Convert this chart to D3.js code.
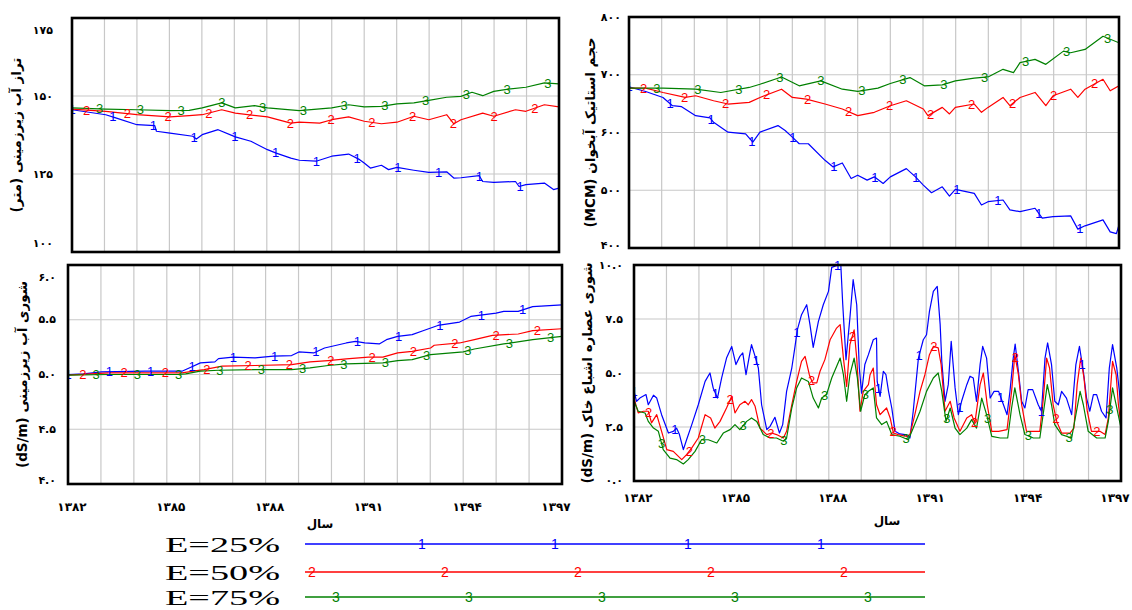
<!DOCTYPE html>
<html><head><meta charset="utf-8">
<script src="https://cdn.jsdelivr.net/npm/d3@7"></script>
<style>body{margin:0;background:#fff;overflow:hidden}svg{display:block}</style>
</head><body><svg id="c" width="1132" height="610"></svg>
<script>
// ---- shared ----
const yearTicks = [0, 3, 6, 9, 12, 15];           // years since 1382
const yearLabels = ["۱۳۸۲", "۱۳۸۵", "۱۳۸۸", "۱۳۹۱", "۱۳۹۴", "۱۳۹۷"];
const seriesNames = ["E=25%", "E=50%", "E=75%"];
const seriesMarks = ["1", "2", "3"];
const seriesColors = ["#0000ff", "#ff0000", "#008000"];
const xTitle = "سال";

// ---- groundwater level (m) ----
const gwTicks = [100, 125, 150, 175];
const gwTickLabels = ["۱۰۰", "۱۲۵", "۱۵۰", "۱۷۵"];
const gwTitle = "تراز آب زیرزمینی (متر)";
const gw1 = [[0,145.6],[1.04,144.0],[1.37,142.9],[2.0,140.8],[2.55,140.5],[2.60,138.7],[3.02,138.1],[3.72,137.1],[3.83,136.2],[4.01,137.6],[4.50,139.2],[5.03,136.9],[5.51,135.5],[6.02,132.8],[6.29,131.7],[6.74,130.1],[7.0,129.4],[7.52,129.1],[8.0,130.7],[8.52,131.4],[8.86,129.6],[9.0,128.5],[9.19,126.9],[9.53,127.8],[9.75,126.4],[10.01,127.1],[10.53,126.2],[10.99,125.5],[11.54,125.7],[11.76,123.7],[11.98,123.8],[12.54,124.5],[12.65,122.6],[12.99,122.3],[13.66,122.6],[13.77,121.0],[13.98,121.6],[14.55,122.1],[14.83,120.0],[15.0,120.5]];
const gw2 = [[0,145.8],[1.04,145.1],[2.0,144.0],[3.02,143.3],[3.61,143.7],[4.01,144.0],[4.61,145.6],[5.03,144.5],[6.02,143.3],[6.74,141.3],[7.0,141.6],[7.63,141.3],[8.0,142.4],[8.52,143.3],[9.0,141.9],[9.53,141.1],[10.01,141.6],[10.53,143.5],[10.99,142.4],[11.54,144.0],[11.76,141.1],[11.98,142.4],[12.65,144.5],[12.99,143.5],[13.66,145.6],[13.98,145.1],[14.55,147.2],[15.0,146.5]];
const gw3 = [[0,146.2],[1.04,145.8],[2.0,145.6],[3.02,145.3],[3.61,145.4],[4.01,146.2],[4.61,147.8],[5.03,146.2],[5.62,146.9],[6.02,146.2],[7.0,145.3],[8.0,146.2],[8.52,147.2],[9.0,146.5],[9.53,146.7],[10.01,147.5],[10.53,147.8],[10.99,148.6],[11.54,149.6],[11.98,149.9],[12.32,151.2],[12.65,150.1],[12.99,151.5],[13.44,152.2],[13.98,152.8],[14.55,154.2],[15.0,153.9]];

// ---- aquifer static volume (MCM) ----
const volTicks = [400, 500, 600, 700, 800];
const volTickLabels = ["۴۰۰", "۵۰۰", "۶۰۰", "۷۰۰", "۸۰۰"];
const volTitle = "حجم استاتیک آبخوان (MCM)";
const vol1 = [[0,679],[0.51,671],[1.04,660.7],[1.33,646.4],[1.61,644.7],[2.04,629.2],[2.48,625.2],[2.59,617.7],[3.03,600.6],[3.57,597.7],[3.79,583.4],[4.01,600.6],[4.56,612.0],[4.78,603.4],[5.0,592.0],[5.21,580.5],[5.49,580.5],[6.0,551.8],[6.25,540.4],[6.53,547.3],[6.80,520.3],[7.0,526.1],[7.29,517.5],[7.51,523.2],[7.78,511.7],[8.0,523.2],[8.49,537.5],[8.77,523.2],[9.01,508.9],[9.26,495.7],[9.59,506.0],[9.81,490.0],[9.99,501.4],[10.57,494.5],[10.79,474.5],[10.99,480.2],[11.45,483.1],[11.66,465.9],[11.97,463.0],[12.43,468.8],[12.65,451.6],[12.98,454.4],[13.52,455.6],[13.74,432.7],[13.96,438.4],[14.51,448.7],[14.73,428],[14.92,425],[15.0,440]];
const vol2 = [[0,676.8],[0.51,676.8],[1.04,669.3],[1.72,660.7],[2.04,663.6],[2.59,655.0],[3.03,649.3],[3.68,652.1],[4.01,660.7],[4.67,675.0],[5.0,660.7],[5.43,657.9],[6.0,649.3],[6.53,640.7],[7.0,629.2],[7.51,635.0],[8.0,646.4],[8.49,655.0],[9.01,640.7],[9.15,629.2],[9.59,643.5],[9.81,632.1],[9.99,643.5],[10.57,649.3],[10.79,635.0],[10.99,643.5],[11.45,660.7],[11.66,646.4],[11.97,660.7],[12.43,669.3],[12.76,646.4],[12.98,663.6],[13.52,675.0],[13.74,660.7],[13.96,675.0],[14.51,692.2],[14.73,672.2],[15.0,680.8]];
const vol3 = [[0,676.8],[1.04,676.8],[2.04,675.0],[2.81,669.3],[3.68,678.0],[4.01,683.6],[4.67,696.2],[5.21,680.8],[5.87,689.4],[6.53,675.0],[7.0,671.1],[7.62,676.8],[8.0,684.8],[8.60,695.1],[9.04,680.8],[9.59,682.5],[9.99,689.4],[10.57,694.0],[10.99,696.2],[11.45,709.4],[11.77,703.7],[11.97,720.9],[12.43,726.6],[12.76,718.0],[13.30,740.9],[13.52,738.1],[13.96,743.8],[14.51,766.7],[15.0,755.3]];

// ---- groundwater salinity (dS/m) ----
const salTicks = [4.0, 4.5, 5.0, 5.5, 6.0];
const salTickLabels = ["۴.۰", "۴.۵", "۵.۰", "۵.۵", "۶.۰"];
const salTitle = "شوری آب زیرزمینی (dS/m)";
const sal1 = [[0,5.0],[0.47,5.006],[1.02,5.024],[2.35,5.03],[3.46,5.03],[3.68,5.06],[4.02,5.106],[4.46,5.115],[4.57,5.145],[5.01,5.158],[5.68,5.152],[6.24,5.167],[6.79,5.173],[7.01,5.206],[7.46,5.197],[7.79,5.242],[8.45,5.288],[8.73,5.303],[9.01,5.288],[9.45,5.279],[9.67,5.318],[10.01,5.348],[10.45,5.364],[10.78,5.4],[11.23,5.448],[11.89,5.479],[12.23,5.53],[13.0,5.56],[13.23,5.576],[13.67,5.576],[14.11,5.62],[15.0,5.636]];
const sal2 = [[0,4.994],[1.24,5.015],[3.13,5.015],[3.46,5.015],[3.91,5.036],[4.13,5.045],[4.68,5.076],[5.68,5.082],[6.79,5.09],[7.35,5.115],[7.90,5.127],[8.45,5.142],[9.12,5.158],[9.56,5.158],[10.01,5.197],[10.45,5.212],[11.01,5.242],[11.12,5.267],[11.89,5.288],[12.34,5.318],[12.89,5.358],[13.67,5.37],[14.11,5.4],[15.0,5.418]];
const sal3 = [[0,4.994],[1.24,5.0],[3.35,5.0],[3.57,5.006],[4.02,5.03],[4.57,5.039],[5.68,5.045],[6.79,5.045],[7.35,5.06],[7.90,5.082],[8.45,5.097],[9.56,5.106],[10.01,5.127],[10.45,5.136],[11.01,5.182],[12.0,5.206],[12.34,5.233],[13.23,5.279],[14.11,5.318],[15.0,5.348]];

// ---- soil saturation extract salinity (dS/m) ----
const soilTicks = [0, 2.5, 5.0, 7.5, 10.0];
const soilTickLabels = ["۰.۰", "۲.۵", "۵.۰", "۷.۵", "۱۰.۰"];
const soilTitle = "شوری عصاره اشباع خاک (dS/m)";
const soil1 = [[0,4.15],[0.08,3.69],[0.18,3.84],[0.37,4.0],[0.44,3.53],[0.60,3.97],[0.70,3.84],[0.85,3.07],[1.06,2.22],[1.21,2.3],[1.31,2.45],[1.40,2.15],[1.52,1.45],[1.62,1.91],[1.78,2.61],[1.98,3.53],[2.19,4.61],[2.34,5.0],[2.44,4.3],[2.57,3.84],[2.70,4.77],[2.85,5.69],[3.01,6.23],[3.14,5.39],[3.26,5.77],[3.35,5.93],[3.45,4.92],[3.57,5.93],[3.62,6.31],[3.73,5.77],[3.83,5.23],[3.93,3.53],[4.09,2.38],[4.19,2.53],[4.34,2.95],[4.48,2.22],[4.58,2.61],[4.70,4.15],[4.86,5.23],[4.96,6.23],[5.03,7.0],[5.16,7.7],[5.32,8.16],[5.42,7.24],[5.52,6.19],[5.68,7.39],[5.83,8.16],[5.99,8.78],[6.09,9.89],[6.29,10.0],[6.37,10.0],[6.43,8.16],[6.53,5.62],[6.65,7.55],[6.75,9.32],[6.86,8.16],[6.94,5.23],[7.01,4.07],[7.11,5.39],[7.22,5.85],[7.37,6.54],[7.47,6.62],[7.49,4.61],[7.58,3.92],[7.68,5.08],[7.76,4.92],[7.84,4.15],[7.94,3.38],[8.04,2.3],[8.19,2.18],[8.35,2.15],[8.50,1.99],[8.60,3.23],[8.76,5.69],[8.91,6.54],[9.01,6.77],[9.10,7.85],[9.22,8.78],[9.34,9.01],[9.43,7.24],[9.48,5.54],[9.58,3.69],[9.68,4.46],[9.77,6.47],[9.89,4.31],[9.99,3.07],[10.09,3.69],[10.25,4.46],[10.35,4.85],[10.45,4.77],[10.55,3.69],[10.66,5.39],[10.74,6.23],[10.86,5.69],[10.97,3.84],[11.09,4.15],[11.23,4.15],[11.38,3.53],[11.49,3.07],[11.58,4.15],[11.68,5.69],[11.74,6.34],[11.84,5.08],[11.94,3.69],[12.04,3.38],[12.14,4.23],[12.28,4.23],[12.45,3.53],[12.55,3.23],[12.66,5.69],[12.74,6.39],[12.86,5.39],[12.96,3.69],[13.07,3.53],[13.17,4.15],[13.32,3.84],[13.48,3.07],[13.61,5.39],[13.72,6.23],[13.84,5.08],[13.94,3.84],[14.04,3.23],[14.15,4.0],[14.25,4.0],[14.40,3.23],[14.54,2.92],[14.64,5.23],[14.74,6.31],[14.87,5.23],[14.95,4.15],[15.0,3.23]];
const soil2 = [[0,3.84],[0.13,3.15],[0.29,3.23],[0.44,3.23],[0.54,2.69],[0.70,3.07],[0.85,2.3],[1.01,1.45],[1.21,1.37],[1.47,0.99],[1.62,1.22],[1.78,1.53],[1.98,1.99],[2.19,3.07],[2.36,2.92],[2.49,2.45],[2.65,2.76],[2.85,3.38],[3.01,3.92],[3.11,3.15],[3.26,3.53],[3.42,3.69],[3.52,3.53],[3.62,3.77],[3.73,3.46],[3.88,2.45],[4.09,2.15],[4.24,2.22],[4.39,2.15],[4.60,1.99],[4.70,2.3],[4.86,3.53],[5.01,4.61],[5.16,5.54],[5.27,5.77],[5.40,4.92],[5.50,4.54],[5.63,4.54],[5.73,5.08],[5.88,5.62],[6.04,6.54],[6.24,7.08],[6.35,7.24],[6.45,5.69],[6.55,4.38],[6.65,6.31],[6.78,7.0],[6.86,5.69],[6.96,3.23],[7.06,4.15],[7.22,4.46],[7.27,4.92],[7.37,5.23],[7.47,3.53],[7.58,3.07],[7.68,3.23],[7.78,3.38],[7.89,2.92],[7.99,2.22],[8.14,2.15],[8.40,2.07],[8.50,2.15],[8.65,3.07],[8.81,4.15],[8.96,4.92],[9.10,5.85],[9.22,6.23],[9.37,6.16],[9.46,5.39],[9.58,3.23],[9.74,3.69],[9.86,2.92],[10.04,2.3],[10.25,2.92],[10.40,3.07],[10.50,2.69],[10.66,4.46],[10.76,5.0],[10.88,3.53],[11.02,2.3],[11.23,2.3],[11.49,2.38],[11.63,4.15],[11.73,5.85],[11.84,4.92],[11.94,3.53],[12.09,2.3],[12.30,2.3],[12.50,2.3],[12.61,3.84],[12.71,5.69],[12.80,5.23],[12.91,3.53],[13.02,2.76],[13.17,2.22],[13.43,2.22],[13.55,2.45],[13.65,4.46],[13.76,5.69],[13.86,4.77],[13.96,3.23],[14.09,2.3],[14.35,2.3],[14.51,2.15],[14.61,2.92],[14.74,5.54],[14.85,4.92],[14.92,3.53],[15.0,2.61]];
const soil3 = [[0,3.69],[0.13,3.23],[0.34,3.15],[0.44,2.76],[0.60,2.45],[0.75,2.3],[0.90,1.45],[1.11,1.06],[1.31,0.99],[1.52,0.79],[1.67,0.99],[1.88,1.37],[2.08,1.91],[2.29,1.91],[2.55,1.76],[2.75,2.22],[2.96,2.38],[3.11,2.61],[3.26,2.38],[3.47,2.76],[3.62,2.92],[3.78,2.76],[3.98,2.15],[4.19,1.99],[4.39,1.99],[4.60,1.84],[4.70,1.99],[4.86,3.38],[5.01,4.31],[5.16,4.77],[5.37,4.61],[5.52,3.84],[5.68,3.38],[5.78,3.84],[5.93,4.0],[6.09,4.77],[6.35,5.69],[6.45,4.92],[6.55,3.69],[6.65,4.92],[6.78,5.69],[6.88,4.77],[6.98,3.23],[7.11,4.0],[7.22,4.15],[7.37,4.31],[7.47,2.92],[7.63,2.61],[7.78,2.76],[7.94,2.15],[8.19,2.07],[8.45,1.91],[8.60,2.45],[8.81,3.23],[9.01,4.15],[9.22,4.77],[9.37,5.0],[9.48,4.15],[9.61,2.76],[9.74,3.38],[9.89,2.45],[10.04,2.15],[10.25,2.45],[10.40,2.84],[10.55,2.45],[10.71,3.84],[10.86,3.07],[11.02,2.07],[11.28,1.99],[11.51,1.99],[11.63,3.38],[11.73,4.31],[11.89,3.07],[12.04,2.15],[12.30,1.99],[12.50,1.99],[12.63,3.38],[12.73,4.46],[12.86,3.53],[12.96,2.61],[13.17,2.15],[13.48,1.99],[13.63,3.23],[13.74,4.15],[13.84,3.53],[13.99,2.3],[14.25,1.99],[14.51,1.99],[14.61,2.76],[14.74,4.31],[14.87,3.38],[15.0,2.45]];

// ---- layout ----
const svg = d3.select("#c");
const FA = "'DejaVu Sans', 'Noto Sans', sans-serif";

const panels = [
  {l:72, t:18, r:559, b:252, domain:[100,175], ticks:gwTicks, labels:gwTickLabels, data:[gw1,gw2,gw3],
   title:gwTitle, titleX:16, titleFS:13.5, labX:53, clampTop:12, clampBot:9, xlab:false},
  {l:629, t:17, r:1119, b:248, domain:[400,800], ticks:volTicks, labels:volTickLabels, data:[vol1,vol2,vol3],
   title:volTitle, titleX:590, titleFS:13.5, labX:621, clampTop:-1, clampBot:3, xlab:false},
  {l:68, t:265, r:562, b:484, domain:[4,6], ticks:salTicks, labels:salTickLabels, data:[sal1,sal2,sal3],
   title:salTitle, titleX:22, titleFS:13.5, labX:56, clampTop:12, clampBot:4, xlab:true, xlabY:507, xtitle:[320,524]},
  {l:634, t:265, r:1121, b:481, domain:[0,10], ticks:soilTicks, labels:soilTickLabels, data:[soil1,soil2,soil3],
   title:soilTitle, titleX:587, titleFS:13.5, labX:623, clampTop:-2, clampBot:1, xlab:true, xlabY:498, xtitle:[887,521]}
];

const markStart = [0, 0.45, 0.85];
const markStep = 1.255;

// position on a drawn polyline at time tm (for placing the decorative number markers)
function onLine(s, tm) {
  const i = d3.bisector(d => d[0]).left(s, tm);
  if (i <= 0) return s[0];
  if (i >= s.length) return s[s.length - 1];
  const a = s[i - 1], b = s[i];
  const f = (tm - a[0]) / (b[0] - a[0]);
  return [tm, a[1] + f * (b[1] - a[1])];
}

panels.forEach((p, pi) => {
  const x = d3.scaleLinear().domain([0, 15]).range([p.l, p.r]);
  const y = d3.scaleLinear().domain(p.domain).range([p.b, p.t]);
  const g = svg.append("g");
  const clipId = "clip" + pi;
  svg.append("clipPath").attr("id", clipId).append("rect")
    .attr("x", p.l).attr("y", p.t - 4).attr("width", p.r - p.l).attr("height", p.b - p.t + 4);

  // grid
  const gx = d3.range(1, 15);
  g.selectAll(".vg").data(gx).join("line")
    .attr("x1", d => x(d)).attr("x2", d => x(d)).attr("y1", p.t).attr("y2", p.b)
    .attr("stroke", "#c8c8c8").attr("stroke-width", 1.2);
  g.selectAll(".hg").data(p.ticks.slice(1, -1)).join("line")
    .attr("x1", p.l).attr("x2", p.r).attr("y1", d => y(d)).attr("y2", d => y(d))
    .attr("stroke", "#c8c8c8").attr("stroke-width", 1.2);

  // lines
  const line = d3.line().x(d => x(d[0])).y(d => y(d[1]));
  const lg = g.append("g").attr("clip-path", `url(#${clipId})`);
  p.data.forEach((s, si) => {
    lg.append("path").datum(s).attr("d", line).attr("fill", "none")
      .attr("stroke", seriesColors[si]).attr("stroke-width", 1.2).attr("stroke-linejoin", "round");
  });
  // number markers on lines
  p.data.forEach((s, si) => {
    const times = d3.range(markStart[si], 15.05, markStep);
    const pts = times.map(tm => onLine(s, tm));
    lg.selectAll(".m" + si).data(pts).join("text")
      .attr("x", d => x(d[0])).attr("y", d => y(d[1]))
      .attr("text-anchor", "middle").attr("dominant-baseline", "central")
      .attr("font-family", "Arial, 'Liberation Sans', sans-serif").attr("font-size", 13)
      .attr("fill", seriesColors[si]).text(seriesMarks[si]);
  });

  // frame
  g.append("rect").attr("x", p.l).attr("y", p.t).attr("width", p.r - p.l).attr("height", p.b - p.t)
    .attr("fill", "none").attr("stroke", "#000").attr("stroke-width", 2.6);

  // y tick labels
  g.selectAll(".yl").data(p.ticks).join("text")
    .attr("x", p.labX)
    .attr("y", d => Math.min(Math.max(y(d), p.t + p.clampTop), p.b - p.clampBot))
    .attr("text-anchor", "end").attr("dominant-baseline", "central")
    .attr("font-family", FA).attr("font-weight", "bold").attr("font-size", 11)
    .attr("fill", "#000")
    .text((d, i) => p.labels[i]);

  // y title
  g.append("text")
    .attr("transform", `translate(${p.titleX},${(p.t + p.b) / 2}) rotate(-90)`)
    .attr("text-anchor", "middle").attr("dominant-baseline", "central")
    .attr("direction", "rtl")
    .attr("font-family", FA).attr("font-weight", "bold").attr("font-size", p.titleFS)
    .attr("fill", "#000").text(p.title);

  if (p.xlab) {
    g.selectAll(".xl").data(yearTicks).join("text")
      .attr("x", d => Math.min(x(d) + 4, p.r - 6)).attr("y", p.xlabY)
      .attr("text-anchor", "middle").attr("dominant-baseline", "central")
      .attr("font-family", FA).attr("font-weight", "bold").attr("font-size", 12)
      .attr("fill", "#000").text((d, i) => yearLabels[i]);
    g.append("text").attr("x", p.xtitle[0]).attr("y", p.xtitle[1])
      .attr("text-anchor", "middle").attr("dominant-baseline", "central")
      .attr("font-family", FA).attr("font-weight", "bold").attr("font-size", 12)
      .attr("fill", "#000").text(xTitle);
  }
});

// ---- legend ----
const legRows = [544, 572, 597];
const legMarkStart = [117, 7, 31];
const legLine = [305, 925];
const lg = svg.append("g");
seriesNames.forEach((name, i) => {
  const yy = legRows[i];
  lg.append("text").attr("x", 165).attr("y", yy).attr("dominant-baseline", "central")
    .attr("font-family", "'Liberation Serif', 'Times New Roman', serif").attr("font-size", 22)
    .attr("textLength", 115).attr("lengthAdjust", "spacingAndGlyphs")
    .attr("fill", "#000").text(name);
  lg.append("line").attr("x1", legLine[0]).attr("x2", legLine[1]).attr("y1", yy).attr("y2", yy)
    .attr("stroke", seriesColors[i]).attr("stroke-width", 1.5);
  const xs = d3.range(legLine[0] + legMarkStart[i], legLine[1] - 10, 133);
  lg.selectAll(".lm" + i).data(xs).join("text")
    .attr("x", d => d).attr("y", yy).attr("text-anchor", "middle").attr("dominant-baseline", "central")
    .attr("font-family", "Arial, 'Liberation Sans', sans-serif").attr("font-size", 14)
    .attr("fill", seriesColors[i]).text(seriesMarks[i]);
});
</script></body></html>
